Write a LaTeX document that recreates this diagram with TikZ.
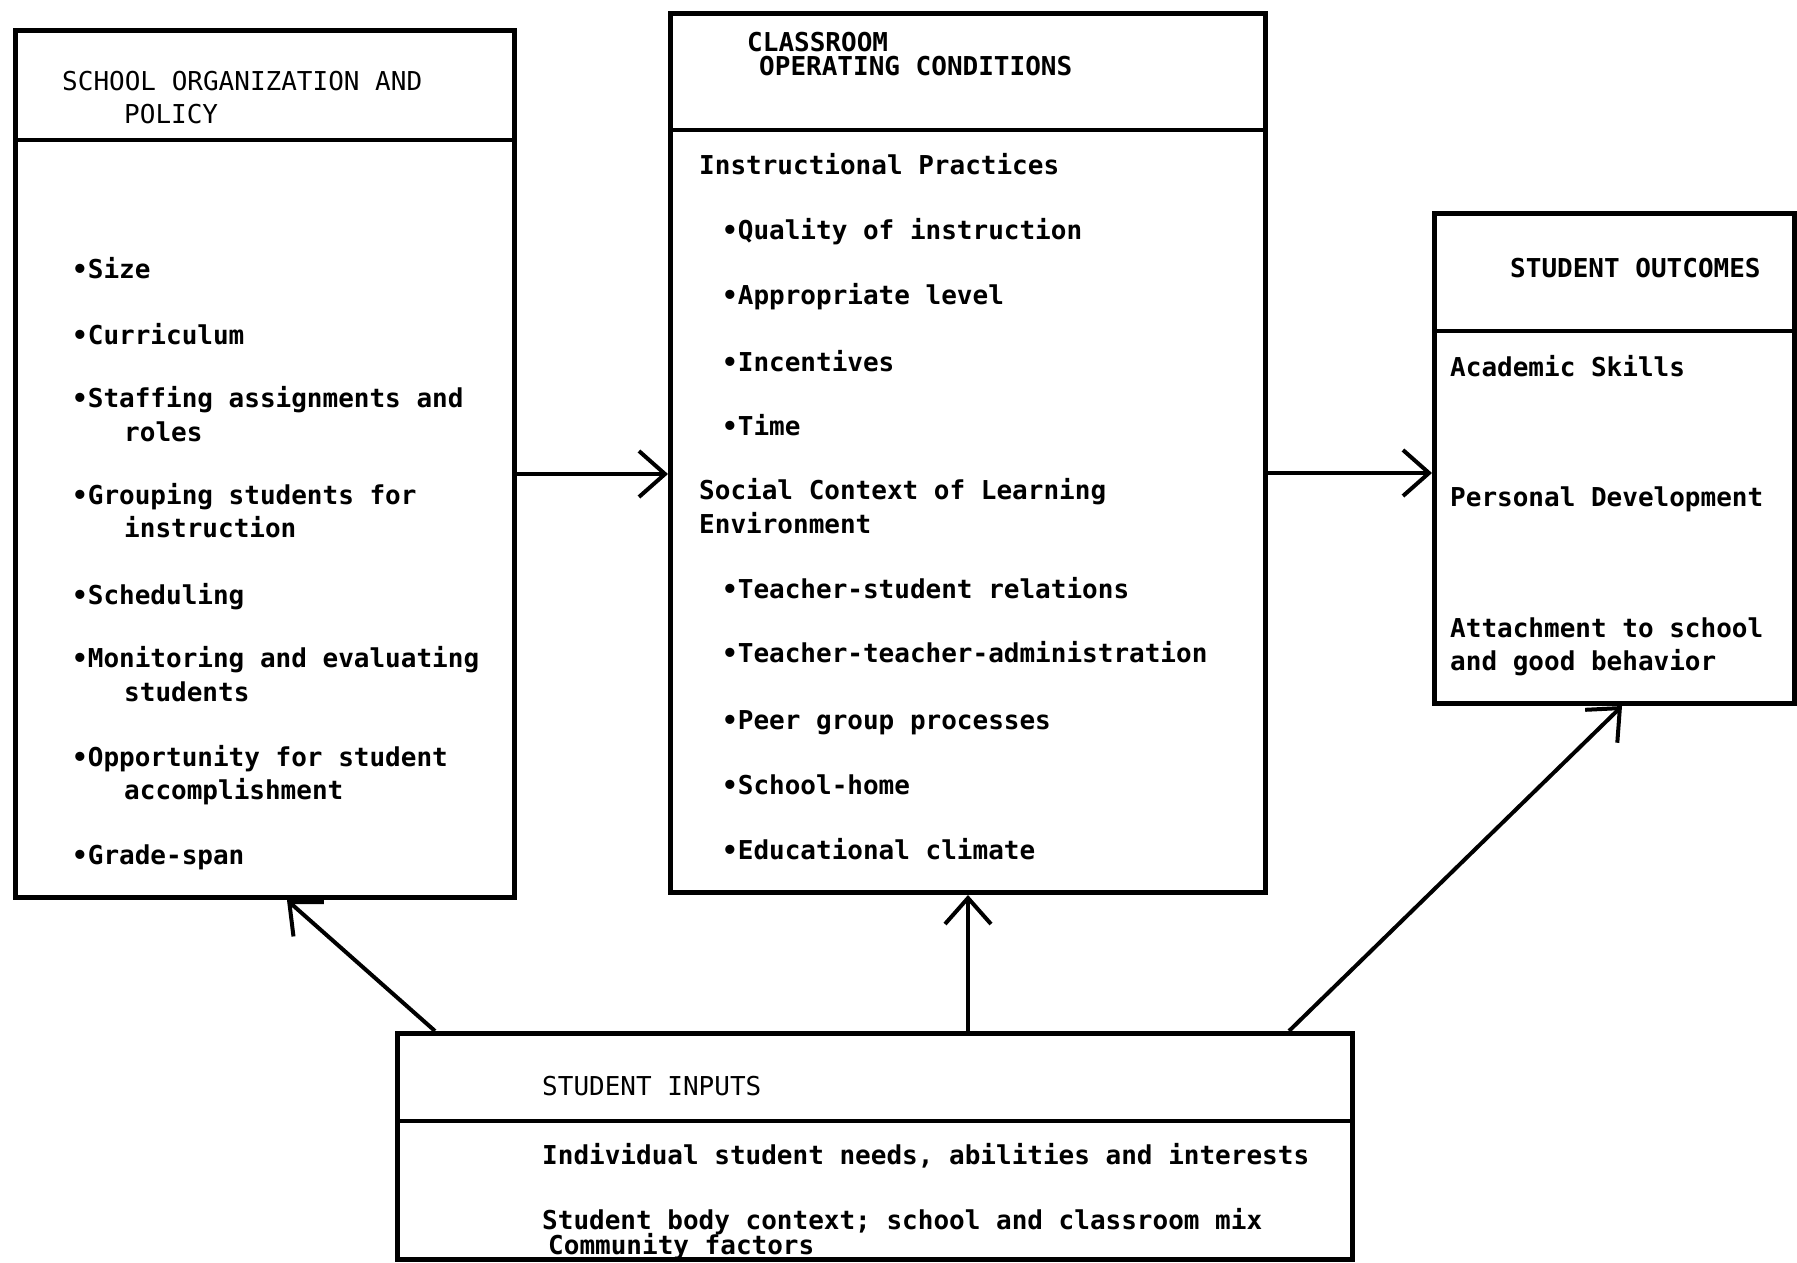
\documentclass[tikz,border=0pt]{standalone}
\usepackage{fontspec}
\newfontfamily\tw{DejaVu Sans Mono}
\usetikzlibrary{arrows.meta}
\tikzset{
  boxstyle/.style={draw, line width=5pt, inner sep=0pt, anchor=north west},
  divline/.style={line width=4.5pt},
  arr/.style={line width=4pt, -{Straight Barb[length=26pt,width=46pt,line width=4pt]}},
  txt/.style={anchor=base west, inner sep=0pt, font=\tw\bfseries\fontsize{26}{30}\selectfont},
  hdr/.style={anchor=base west, inner sep=0pt, font=\tw\fontsize{26}{30}\selectfont},
}
\begin{document}
\begin{tikzpicture}[x=1pt,y=-1pt]
\useasboundingbox (0,0) rectangle (1797,1262);
% boxes
\node[boxstyle, minimum width=499pt, minimum height=867pt] (L) at (13,28) {};
\node[boxstyle, minimum width=595pt, minimum height=879pt] (M) at (668,11) {};
\node[boxstyle, minimum width=360pt, minimum height=490pt] (R) at (1432,211) {};
\node[boxstyle, minimum width=955pt, minimum height=226pt] (B) at (395,1031) {};
% header dividers
\draw[divline] (L.west |- 0,140) -- (L.east |- 0,140);
\draw[divline] (M.west |- 0,130) -- (M.east |- 0,130);
\draw[divline] (R.west |- 0,331) -- (R.east |- 0,331);
\draw[divline] (B.west |- 0,1121) -- (B.east |- 0,1121);
% left box text
\node[hdr] (l0) at (62,90) {SCHOOL ORGANIZATION AND};
\node[hdr] (l0b) at (124,123) {POLICY};
\node[txt] (l1) at (72,278) {•Size};
\node[txt] (l2) at (72,344) {•Curriculum};
\node[txt] (l3) at (72,407) {•Staffing assignments and};
\node[txt] (l3b) at (124,441) {roles};
\node[txt] (l4) at (72,504) {•Grouping students for};
\node[txt] (l4b) at (124,537) {instruction};
\node[txt] (l5) at (72,604) {•Scheduling};
\node[txt] (l6) at (72,667) {•Monitoring and evaluating};
\node[txt] (l6b) at (124,701) {students};
\node[txt] (l7) at (72,766) {•Opportunity for student};
\node[txt] (l7b) at (124,799) {accomplishment};
\node[txt] (l8) at (72,864) {•Grade-span};
% middle box text
\node[txt] (m0) at (747,51) {CLASSROOM};
\node[txt] (m0b) at (759,75) {OPERATING CONDITIONS};
\node[txt] (m1) at (699,174) {Instructional Practices};
\node[txt] (m2) at (722,239) {•Quality of instruction};
\node[txt] (m3) at (722,304) {•Appropriate level};
\node[txt] (m4) at (722,371) {•Incentives};
\node[txt] (m5) at (722,435) {•Time};
\node[txt] (m6) at (699,499) {Social Context of Learning};
\node[txt] (m6b) at (699,533) {Environment};
\node[txt] (m7) at (722,598) {•Teacher-student relations};
\node[txt] (m8) at (722,662) {•Teacher-teacher-administration};
\node[txt] (m9) at (722,729) {•Peer group processes};
\node[txt] (m10) at (722,794) {•School-home};
\node[txt] (m11) at (722,859) {•Educational climate};
% right box text
\node[txt] (r0) at (1510,277) {STUDENT OUTCOMES};
\node[txt] (r1) at (1450,376) {Academic Skills};
\node[txt] (r2) at (1450,506) {Personal Development};
\node[txt] (r3) at (1450,637) {Attachment to school};
\node[txt] (r3b) at (1450,670) {and good behavior};
% bottom box text
\node[hdr] (b0) at (542,1095) {STUDENT INPUTS};
\node[txt] (b1) at (542,1164) {Individual student needs, abilities and interests};
\node[txt] (b2) at (542,1229) {Student body context; school and classroom mix};
\node[txt] (b3) at (548,1254) {Community factors};
% connectors
\draw[arr] (L.east |- 0,474) -- (M.west |- 0,474);
\draw[arr] (M.east |- 0,473) -- (R.west |- 0,473);
\draw[arr] (B.north -| 435,0) -- (L.south -| 287,0);
\draw[arr] (B.north -| 968,0) -- (M.south -| 968,0);
\draw[arr] (B.north -| 1289,0) -- (R.south -| 1622,0);
\end{tikzpicture}
\end{document}
